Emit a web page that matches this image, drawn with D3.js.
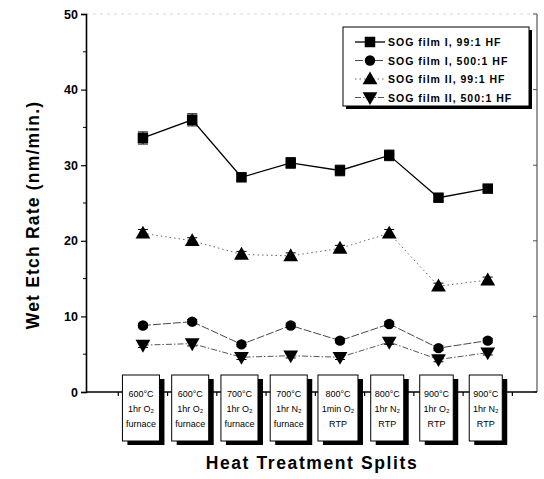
<!DOCTYPE html>
<html>
<head>
<meta charset="utf-8">
<script src="https://cdn.jsdelivr.net/npm/d3@7"></script>
<style>
  body { margin: 0; background: #fff; }
  svg { font-family: "Liberation Sans", Arial, sans-serif; }
</style>
</head>
<body>
<div id="chart"></div>
<script>
// Data
const splits = [
  ["600°C", "1hr O₂", "furnace"],
  ["600°C", "1hr O₂", "furnace"],
  ["700°C", "1hr O₂", "furnace"],
  ["700°C", "1hr N₂", "furnace"],
  ["800°C", "1min O₂", "RTP"],
  ["800°C", "1hr N₂", "RTP"],
  ["900°C", "1hr O₂", "RTP"],
  ["900°C", "1hr N₂", "RTP"]
];
const film1_99 = [33.6, 36.0, 28.4, 30.3, 29.3, 31.3, 25.7, 26.9];
const film1_99Err = [0.8, 0.8, 0.4, 0.7, 0.7, 0.7, 0.4, 0.4];
const film1_500 = [8.8, 9.3, 6.3, 8.8, 6.8, 9.0, 5.8, 6.8];
const film1_500Err = [0.3, 0.3, 0.3, 0.3, 0.3, 0.3, 0.3, 0.3];
const film2_99 = [21.0, 20.0, 18.2, 18.0, 19.0, 21.0, 14.0, 14.8];
const film2_99Err = [0.5, 0.4, 0.4, 0.4, 0.4, 0.5, 0.4, 0.4];
const film2_500 = [6.2, 6.4, 4.6, 4.8, 4.6, 6.6, 4.3, 5.2];
const film2_500Err = [0.3, 0.3, 0.3, 0.3, 0.3, 0.3, 0.3, 0.3];
const seriesNames = ["SOG film I, 99:1 HF", "SOG film I, 500:1 HF", "SOG film II, 99:1 HF", "SOG film II, 500:1 HF"];
const yTicks = [0, 10, 20, 30, 40, 50];
const yMinorTicks = [5, 15, 25, 35, 45];

const width = 544, height = 479;
const plotLeft = 86, plotRight = 537, plotTop = 14, plotBottom = 392;

const series = [
  { name: seriesNames[0], values: film1_99, err: film1_99Err, symbol: d3.symbolSquare, size: 110, rotate: 0, dash: null, stroke: "#000", sw: 1.3 },
  { name: seriesNames[1], values: film1_500, err: film1_500Err, symbol: d3.symbolCircle, size: 85, rotate: 0, dash: "8,2", stroke: "#333", sw: 0.9 },
  { name: seriesNames[2], values: film2_99, err: film2_99Err, symbol: d3.symbolTriangle, size: 95, rotate: 0, dash: "1.5,3", stroke: "#555", sw: 0.9 },
  { name: seriesNames[3], values: film2_500, err: film2_500Err, symbol: d3.symbolTriangle, size: 95, rotate: 180, dash: "6,2,1.5,2", stroke: "#444", sw: 0.9 }
];

const svg = d3.select("#chart").append("svg")
  .attr("width", width)
  .attr("height", height);

svg.append("rect").attr("width", width).attr("height", height).attr("fill", "#fff");

const x = d3.scaleLinear().domain([-0.156, 9]).range([plotLeft, plotRight]);
const y = d3.scaleLinear().domain([0, 50]).range([plotBottom, plotTop]);

// frame: faint top, right border
svg.append("line")
  .attr("x1", plotLeft).attr("x2", plotRight).attr("y1", plotTop).attr("y2", plotTop)
  .attr("stroke", "#ccc").attr("stroke-width", 0.8).attr("stroke-dasharray", "3,4");
svg.append("line")
  .attr("x1", plotRight).attr("x2", plotRight).attr("y1", plotTop).attr("y2", plotBottom)
  .attr("stroke", "#555").attr("stroke-width", 1.2);

// right axis ticks (inward)
const rAxis = svg.append("g").attr("transform", `translate(${plotRight},0)`);
rAxis.selectAll("line.major").data(yTicks).join("line")
  .attr("x1", 0).attr("x2", -4).attr("y1", d => y(d)).attr("y2", d => y(d))
  .attr("stroke", "#555");

// left axis
const yAxis = d3.axisLeft(y).tickValues(yTicks).tickSize(5).tickPadding(3);
const gy = svg.append("g").attr("transform", `translate(${plotLeft},0)`).call(yAxis);
gy.select(".domain").attr("stroke-width", 1.6);
gy.selectAll(".tick line").attr("stroke-width", 1.2);
gy.selectAll(".tick text").attr("font-size", 12.5).attr("font-weight", "bold").attr("fill", "#000");
gy.selectAll("line.minor").data(yMinorTicks).join("line")
  .attr("class", "minor")
  .attr("x1", 0).attr("x2", -3).attr("y1", d => y(d)).attr("y2", d => y(d))
  .attr("stroke", "#000");

// x axis line with ticks between splits
svg.append("line")
  .attr("x1", plotLeft).attr("x2", plotRight).attr("y1", plotBottom).attr("y2", plotBottom)
  .attr("stroke", "#000").attr("stroke-width", 1.6);
svg.selectAll("line.xtick").data(d3.range(0, 9)).join("line")
  .attr("class", "xtick")
  .attr("x1", d => x(d + 0.5)).attr("x2", d => x(d + 0.5))
  .attr("y1", plotBottom).attr("y2", plotBottom + 4)
  .attr("stroke", "#000").attr("stroke-width", 1.2);

// split label boxes
const boxes = svg.append("g");
splits.forEach((lines, i) => {
  const cx = x(i + 1) - 2;
  const g = boxes.append("g");
  const shadow = g.append("rect");
  const box = g.append("rect");
  const t = g.append("text").attr("font-size", 9).attr("text-anchor", "middle").attr("fill", "#000");
  lines.forEach((s, j) => {
    t.append("tspan").attr("x", cx).attr("y", 397 + j * 15).text(s);
  });
  const bw = Math.max(31, t.node().getBBox().width + 7);
  shadow.attr("x", cx - bw / 2 + 5).attr("y", 379).attr("width", bw).attr("height", 66).attr("fill", "#000");
  box.attr("x", cx - bw / 2).attr("y", 375).attr("width", bw).attr("height", 66)
    .attr("fill", "#fff").attr("stroke", "#000").attr("stroke-width", 1);
  t.raise();
});

// series lines, error bars, markers
const line = d3.line().x((d, i) => x(i + 1)).y(d => y(d));
series.forEach(s => {
  svg.append("path")
    .datum(s.values)
    .attr("d", line)
    .attr("fill", "none")
    .attr("stroke", s.stroke)
    .attr("stroke-width", s.sw)
    .attr("stroke-dasharray", s.dash);
  const eb = svg.append("g").attr("stroke", "#000").attr("stroke-width", 1);
  s.values.forEach((v, i) => {
    const cx = x(i + 1);
    eb.append("line").attr("x1", cx).attr("x2", cx).attr("y1", y(v - s.err[i])).attr("y2", y(v + s.err[i]));
    [v - s.err[i], v + s.err[i]].forEach(e => {
      eb.append("line").attr("x1", cx - 5).attr("x2", cx + 5).attr("y1", y(e)).attr("y2", y(e));
    });
  });
  svg.append("g").selectAll("path").data(s.values).join("path")
    .attr("d", d3.symbol().type(s.symbol).size(s.size))
    .attr("transform", (d, i) => `translate(${x(i + 1)},${y(d) + (s.symbol === d3.symbolTriangle ? (s.rotate ? -1 : 1) : 0)}) rotate(${s.rotate})`)
    .attr("fill", "#000");
});

// legend
const lg = svg.append("g");
lg.append("rect").attr("x", 346).attr("y", 30).attr("width", 186).attr("height", 79).attr("fill", "#000");
lg.append("rect").attr("x", 343).attr("y", 27).attr("width", 186).attr("height", 79)
  .attr("fill", "#fff").attr("stroke", "#000").attr("stroke-width", 1);
series.forEach((s, i) => {
  const ly = 42 + i * 18.5;
  lg.append("line").attr("x1", 355).attr("x2", 385).attr("y1", ly).attr("y2", ly)
    .attr("stroke", s.stroke).attr("stroke-width", s.sw).attr("stroke-dasharray", s.dash);
  lg.append("path")
    .attr("d", d3.symbol().type(s.symbol).size(s.size))
    .attr("transform", `translate(370,${ly + (s.symbol === d3.symbolTriangle ? (s.rotate ? -1 : 1) : 0)}) rotate(${s.rotate})`)
    .attr("fill", "#000");
  lg.append("text").attr("x", 388).attr("y", ly + 4)
    .attr("font-size", 10.5).attr("font-weight", "bold").attr("letter-spacing", 1)
    .text(s.name);
});

// axis titles
svg.append("text")
  .attr("transform", `translate(39,${(plotTop + plotBottom) / 2 + 12}) rotate(-90)`)
  .attr("text-anchor", "middle").attr("font-size", 17.5).attr("font-weight", "bold")
  .attr("letter-spacing", 1.2)
  .text("Wet Etch Rate (nm/min.)");
svg.append("text")
  .attr("x", 312).attr("y", 469)
  .attr("text-anchor", "middle").attr("font-size", 17.5).attr("font-weight", "bold")
  .attr("letter-spacing", 1.6)
  .text("Heat Treatment Splits");
</script>
</body>
</html>
